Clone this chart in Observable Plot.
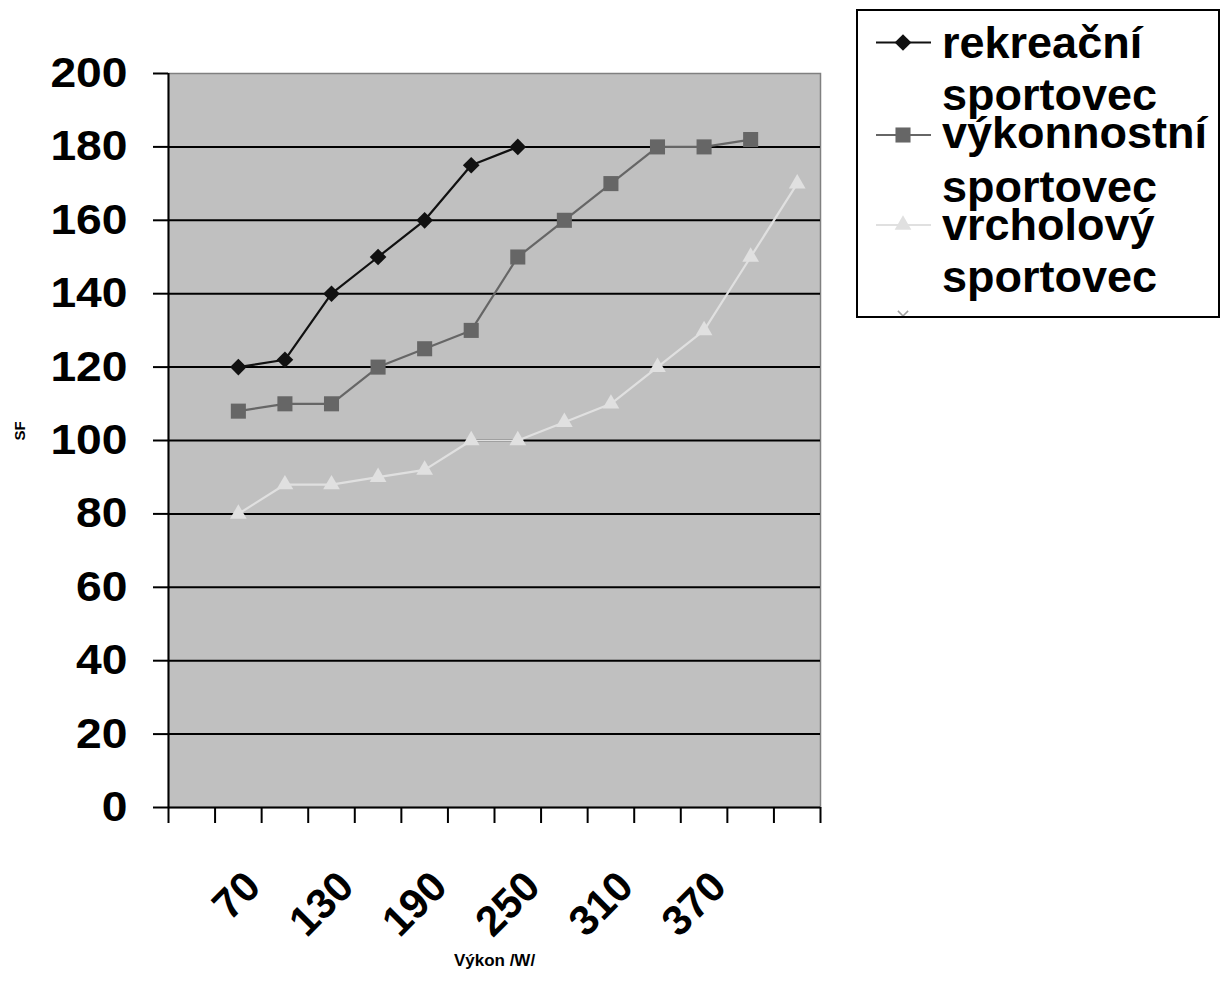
<!DOCTYPE html>
<html>
<head>
<meta charset="utf-8">
<script src="https://cdn.jsdelivr.net/npm/d3@7"></script>
<script src="https://cdn.jsdelivr.net/npm/@observablehq/plot@0.6"></script>
<style>
  body { margin: 0; background: #fff; font-family: "Liberation Sans", Arial, sans-serif; }
  #wrap { position: relative; width: 1231px; height: 994px; }
  #legend { position: absolute; left: 856px; top: 9px; width: 364px; height: 309px;
            border: 2px solid #000; box-sizing: border-box; overflow: hidden; background: #fff; }
  #legend svg { display: block; }
</style>
</head>
<body>
<div id="wrap">
  <div id="chart"></div>
  <div id="legend"></div>
</div>
<script>
// Categories on the x axis (Výkon /W/)
const categories = [40, 70, 100, 130, 160, 190, 220, 250, 280, 310, 340, 370, 400, 430];
const xTickLabels = [70, 130, 190, 250, 310, 370];
const yTicks = [0, 20, 40, 60, 80, 100, 120, 140, 160, 180, 200];

// Series (values start at category 70)
const seriesNames = ["rekreační sportovec", "výkonnostní sportovec", "vrcholový sportovec"];
const rekreacni   = [120, 122, 140, 150, 160, 175, 180];
const vykonnostni = [108, 110, 110, 120, 125, 130, 150, 160, 170, 180, 180, 182];
const vrcholovy   = [80, 88, 88, 90, 92, 100, 100, 105, 110, 120, 130, 150, 170];
const seriesColors = ["#111111", "#666666", "#e0e0e0"];
const seriesSymbols = ["diamond2", "square", "triangle"];
const seriesR = [7.5, 8.5, 6.2];

const allValues = [rekreacni, vykonnostni, vrcholovy];
const startIndex = categories.indexOf(70);
const rowsBySeries = allValues.map((vals, s) =>
  vals.map((v, i) => ({series: seriesNames[s], cat: categories[startIndex + i], value: v})));

const xPos = d => categories.indexOf(d.cat) + 0.5;
const font = "'Liberation Sans', Arial, Helvetica, sans-serif";

const seriesMarks = rowsBySeries.flatMap((rows, s) => [
  Plot.line(rows, {x: xPos, y: "value", stroke: seriesColors[s], strokeWidth: 2.2}),
  Plot.dot(rows, {x: xPos, y: "value", symbol: seriesSymbols[s], r: seriesR[s], fill: seriesColors[s], stroke: "none"})
]);

const chart = Plot.plot({
  width: 1231,
  height: 994,
  marginLeft: 168,
  marginRight: 411,
  marginTop: 73,
  marginBottom: 187,
  style: {fontFamily: font, fontWeight: "bold", color: "#000", background: "transparent", overflow: "visible"},
  x: {type: "linear", domain: [0, categories.length]},
  y: {domain: [0, 200]},
  marks: [
    Plot.frame({fill: "#c0c0c0", stroke: "#808080", strokeWidth: 1.5}),
    Plot.gridY(yTicks.filter(v => v > 0 && v < 200), {stroke: "#000", strokeOpacity: 1, strokeWidth: 2}),
    Plot.ruleX([0], {stroke: "#000", strokeWidth: 2}),
    Plot.ruleY([0], {stroke: "#000", strokeWidth: 2}),
    Plot.axisY(yTicks, {tickSize: 15, tickPadding: 26, fontSize: 42, strokeWidth: 2, label: null}),
    Plot.axisX(d3.range(categories.length + 1), {tickSize: 16, tickFormat: () => "", strokeWidth: 2, label: null}),
    ...seriesMarks,
    Plot.text(xTickLabels, {
      x: d => categories.indexOf(d) + 0.5,
      frameAnchor: "bottom",
      text: d => String(d),
      rotate: -45,
      textAnchor: "end",
      lineAnchor: "middle",
      dx: 15,
      dy: 72,
      fontSize: 42,
      fontWeight: "bold",
      fill: "#000"
    }),
    Plot.text(["SF"], {frameAnchor: "left", text: d => d, rotate: -90, dx: -148, fontSize: 15, fontWeight: "bold", fill: "#000"}),
    Plot.text(["Výkon /W/"], {frameAnchor: "bottom", text: d => d, dy: 158, fontSize: 17, fontWeight: "bold", fill: "#000"})
  ]
});
document.getElementById("chart").appendChild(chart);

// The reference's y tick labels are drawn slightly wider than the font's natural width
d3.select(chart).selectAll("g[aria-label='y-axis tick label'] text").each(function() {
  const w = this.getComputedTextLength();
  if (w > 0) {
    this.setAttribute("textLength", (w * 1.1).toFixed(1));
    this.setAttribute("lengthAdjust", "spacingAndGlyphs");
  }
});

// Legend (boxed, to the right)
const legendLines = [["rekreační", "sportovec"], ["výkonnostní", "sportovec"], ["vrcholový", "sportovec"]];
const lg = d3.select("#legend").append("svg").attr("width", 360).attr("height", 305)
  .style("font-family", font).style("font-weight", "bold");
const markerY = [31.5, 124, 214];
const baselines = [[47, 99], [137, 191], [229, 281]];
const d3Symbols = {diamond2: d3.symbolDiamond2, square: d3.symbolSquare, triangle: d3.symbolTriangle};
legendLines.forEach((lines, s) => {
  lg.append("line").attr("x1", 18).attr("x2", 73).attr("y1", markerY[s]).attr("y2", markerY[s])
    .attr("stroke", seriesColors[s]).attr("stroke-width", 2.2);
  lg.append("path").attr("transform", `translate(45,${markerY[s]})`)
    .attr("d", d3.symbol(d3Symbols[seriesSymbols[s]], Math.PI * seriesR[s] * seriesR[s])())
    .attr("fill", seriesColors[s]);
  lines.forEach((t, j) => {
    lg.append("text").attr("x", 84).attr("y", baselines[s][j]).attr("font-size", 45).attr("fill", "#000").text(t);
  });
});
// partially visible fourth marker
lg.append("path").attr("transform", "translate(45,305)")
  .attr("d", d3.symbol(d3.symbolTimes, 70)()).attr("fill", "none").attr("stroke", "#a0a0a0").attr("stroke-width", 1.5);
</script>
</body>
</html>
